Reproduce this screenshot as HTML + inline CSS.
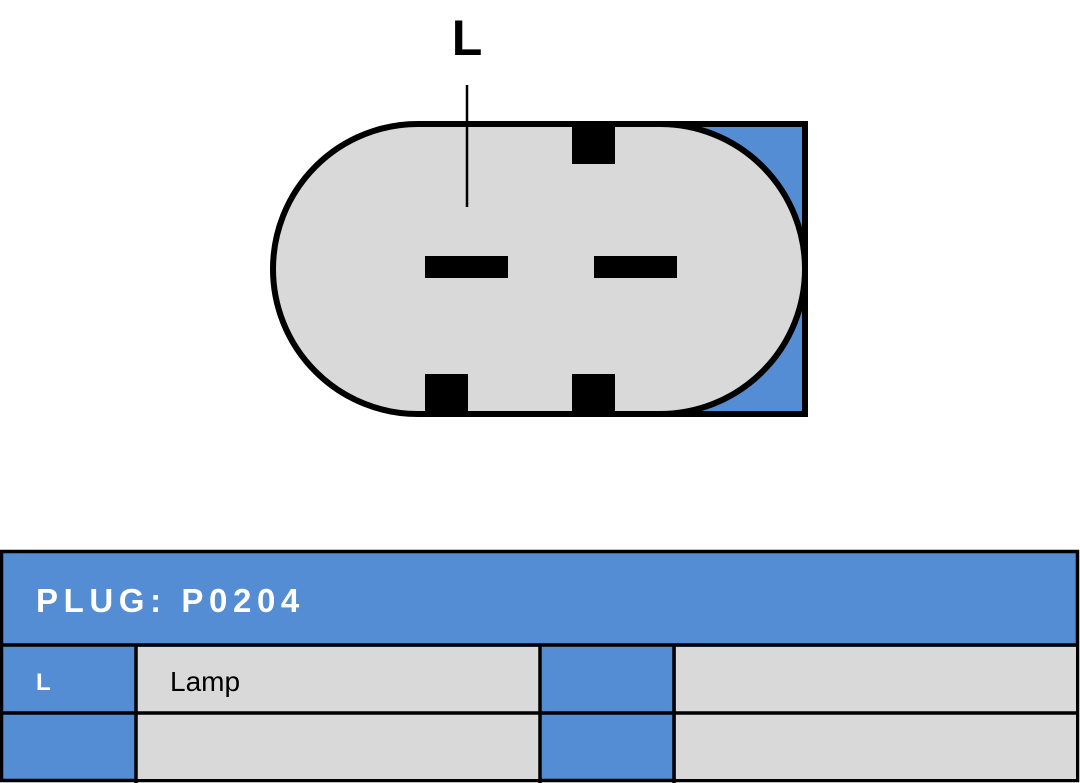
<!DOCTYPE html>
<html><head><style>
html,body{margin:0;padding:0;background:#fff;width:1080px;height:783px;overflow:hidden}
svg{display:block}
</style></head><body>
<svg width="1080" height="783" viewBox="0 0 1080 783" xmlns="http://www.w3.org/2000/svg">
<rect x="660" y="124" width="145" height="290" fill="#548dd4" stroke="#000" stroke-width="6"/>
<path d="M418,124 H660 A145,145 0 0 1 660,414 H418 A145,145 0 0 1 418,124 Z" fill="#d9d9d9" stroke="#000" stroke-width="6"/>
<rect x="572" y="124" width="43" height="40" fill="#000"/>
<rect x="425" y="374" width="43" height="40" fill="#000"/>
<rect x="572" y="374" width="43" height="40" fill="#000"/>
<rect x="425" y="256" width="83" height="22" fill="#000"/>
<rect x="594" y="256" width="83" height="22" fill="#000"/>
<line x1="467" y1="85" x2="467" y2="207" stroke="#000" stroke-width="2.5"/>
<text x="467" y="55" text-anchor="middle" font-family="Liberation Sans, sans-serif" font-weight="bold" font-size="50" fill="#000">L</text>
<!-- table -->
<rect x="1.5" y="551.5" width="1076" height="229" fill="#548dd4" stroke="#000" stroke-width="3.5"/>
<rect x="137" y="647" width="402" height="132" fill="#d9d9d9"/>
<rect x="676" y="647" width="400" height="132" fill="#d9d9d9"/>
<line x1="0" y1="645" x2="1078" y2="645" stroke="#000" stroke-width="3.5"/>
<line x1="0" y1="713" x2="1078" y2="713" stroke="#000" stroke-width="3.5"/>
<line x1="136" y1="645" x2="136" y2="783" stroke="#000" stroke-width="3.5"/>
<line x1="540" y1="645" x2="540" y2="783" stroke="#000" stroke-width="3.5"/>
<line x1="674" y1="645" x2="674" y2="783" stroke="#000" stroke-width="3.5"/>
<text x="36" y="612" font-family="Liberation Sans, sans-serif" font-weight="bold" font-size="33" letter-spacing="5.6" fill="#fff">PLUG: P0204</text>
<text x="36" y="690" font-family="Liberation Sans, sans-serif" font-weight="bold" font-size="24" fill="#fff">L</text>
<text x="170" y="691" font-family="Liberation Sans, sans-serif" font-size="28" fill="#000">Lamp</text>
</svg>
</body></html>
